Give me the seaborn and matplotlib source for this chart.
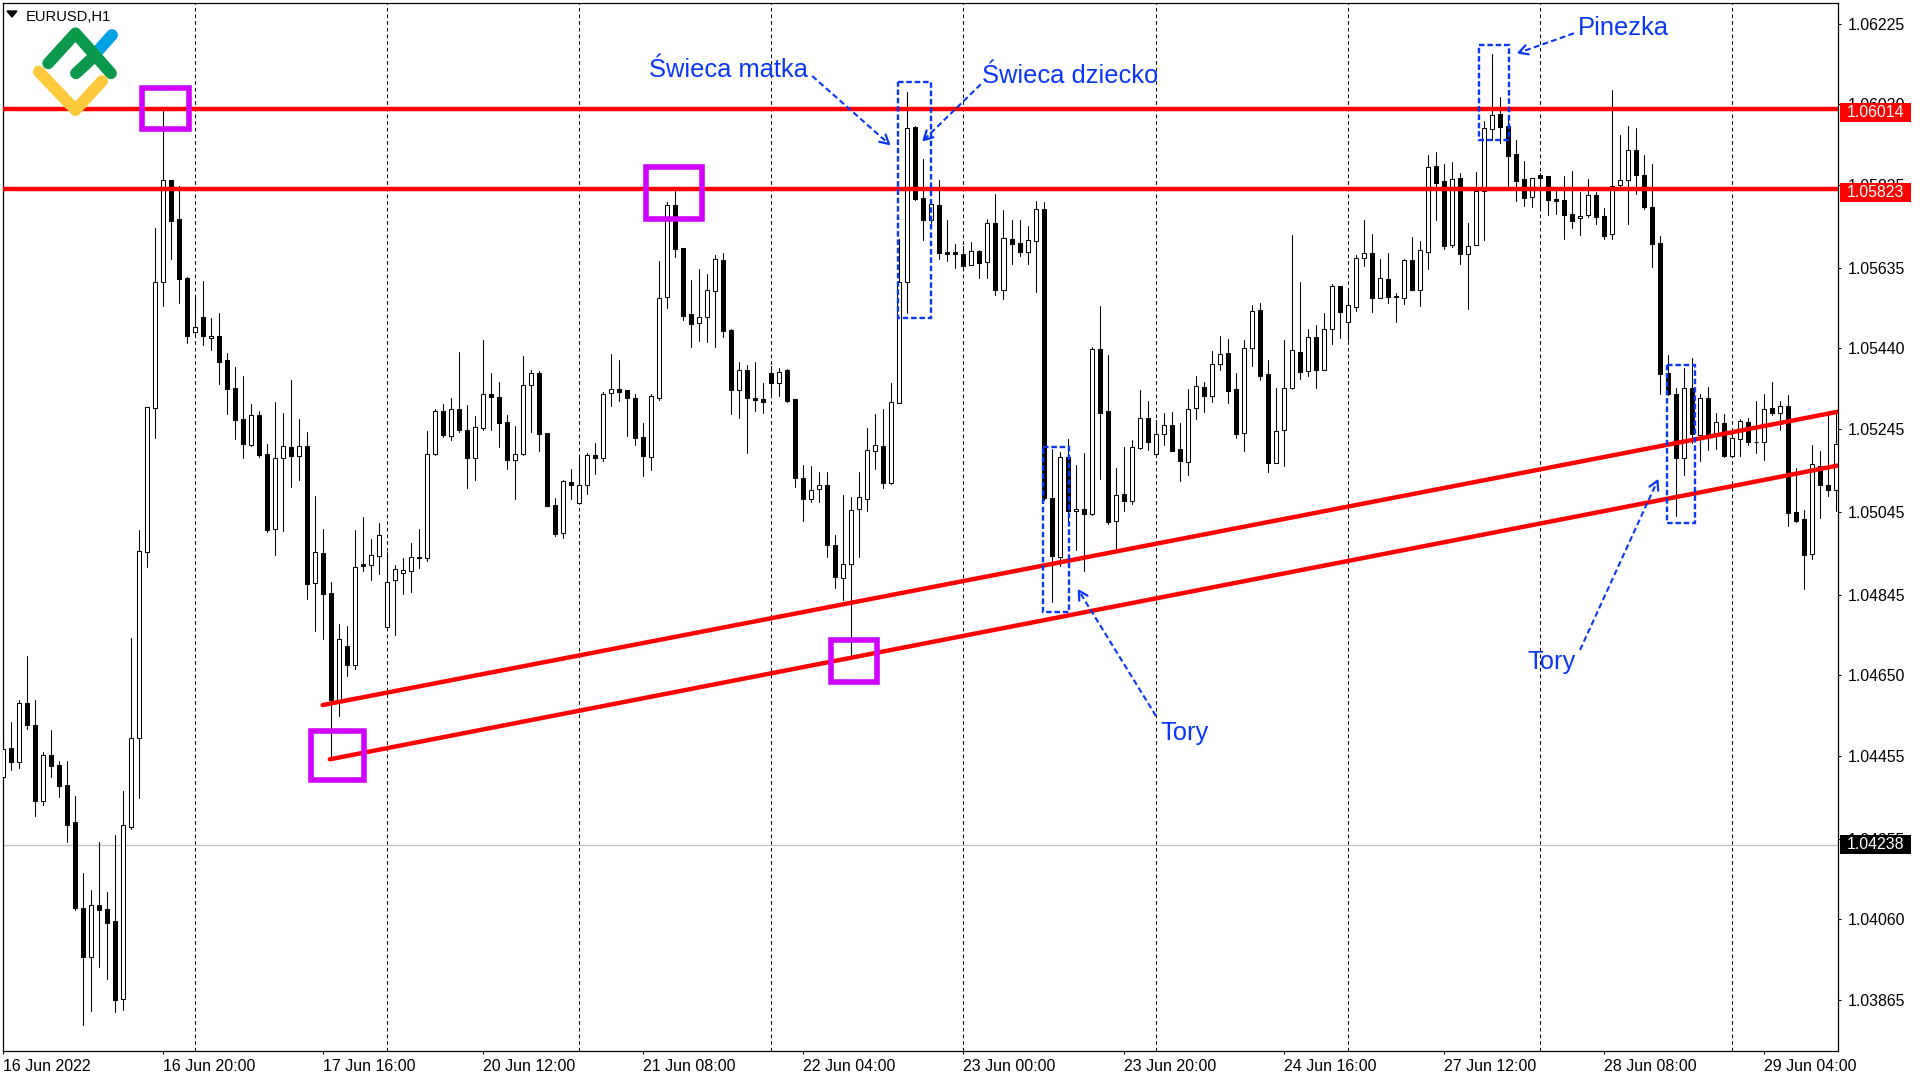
import numpy as np
import pandas as pd
import matplotlib
matplotlib.use('Agg')
import matplotlib.pyplot as plt
import seaborn as sns
from matplotlib.lines import Line2D
from matplotlib.patches import Rectangle, Polygon
from matplotlib.transforms import Affine2D

# EURUSD H1 candles, prices in points (1.04403 -> 104403)
opens = [
    104403, 104474, 104441, 104582, 104530, 104345, 104457, 104433, 104385, 104295,
    104087, 103970, 104096, 104084, 104055, 103868, 104284, 104498, 104949, 105295,
    105600, 105846, 105752, 105610, 105479, 105515, 105466, 105471, 105412, 105344,
    105269, 105207, 105278, 105184, 105004, 105174, 105201, 105181, 105203, 104874,
    104945, 104848, 104590, 104722, 104676, 104919, 104917, 104939, 104767, 104881,
    104898, 104903, 104936, 104934, 105186, 105288, 105229, 105293, 105242, 105174,
    105248, 105330, 105323, 105262, 105171, 105186, 105352, 105380, 105236, 105062,
    104995, 105117, 105067, 105111, 105182, 105174, 105333, 105341, 105339, 105320,
    105225, 105178, 105321, 105565, 105786, 105682, 105522, 105502, 105517, 105579,
    105653, 105484, 105340, 105389, 105320, 105317, 105380, 105357, 105388, 105317,
    105128, 105077, 105101, 105109, 104966, 104886, 104918, 105053, 105077, 105193,
    105203, 105115, 105308, 105601, 105975, 105803, 105751, 105786, 105672, 105672,
    105667, 105642, 105675, 105648, 105742, 105582, 105704, 105695, 105674, 105699,
    105778, 105078, 104937, 105177, 105048, 105053, 105040, 105438, 105289, 105023,
    105087, 105072, 105200, 105271, 105186, 105234, 105254, 105196, 105166, 105297,
    105347, 105326, 105402, 105428, 105341, 105235, 105442, 105533, 105378, 105164,
    105244, 105344, 105432, 105385, 105468, 105389, 105488, 105592, 105503, 105539,
    105658, 105670, 105563, 105607, 105567, 105563, 105653, 105582, 105674, 105880,
    105844, 105690, 105853, 105669, 105690, 105820, 105971, 106006, 105977, 105909,
    105849, 105807, 105858, 105856, 105800, 105798, 105764, 105754, 105763, 105810,
    105759, 105716, 105834, 105846, 105919, 105858, 105781, 105694, 105380, 105329,
    105174, 105344, 105231, 105319, 105231, 105259, 105181, 105222, 105261, 105215,
    105213, 105295, 105285, 105302, 105044, 105027, 104944, 105157, 105109, 105099,
]
highs = [
    104518, 104536, 104590, 104697, 104590, 104464, 104518, 104443, 104443, 104358,
    104171, 104131, 104247, 104126, 104263, 104370, 104740, 105001, 105298, 105731,
    106014, 105846, 105832, 105613, 105569, 105603, 105513, 105525, 105430, 105394,
    105373, 105306, 105289, 105209, 105310, 105284, 105364, 105269, 105237, 105083,
    105003, 104875, 104773, 104769, 105001, 105033, 104979, 105018, 104947, 104916,
    104933, 104970, 105003, 105240, 105294, 105305, 105320, 105432, 105303, 105277,
    105460, 105381, 105359, 105278, 105252, 105422, 105388, 105385, 105236, 105078,
    105122, 105149, 105177, 105187, 105211, 105334, 105426, 105412, 105339, 105331,
    105260, 105329, 105651, 105794, 105821, 105682, 105605, 105631, 105620, 105665,
    105670, 105488, 105407, 105400, 105407, 105356, 105397, 105392, 105390, 105317,
    105158, 105156, 105141, 105141, 104989, 105086, 105081, 105141, 105247, 105281,
    105293, 105356, 105704, 106060, 105977, 105898, 105799, 105847, 105750, 105692,
    105687, 105697, 105678, 105753, 105813, 105774, 105750, 105750, 105736, 105796,
    105794, 105197, 105189, 105221, 105158, 105187, 105444, 105542, 105424, 105151,
    105202, 105219, 105339, 105313, 105267, 105284, 105286, 105260, 105342, 105373,
    105359, 105434, 105470, 105463, 105380, 105460, 105545, 105550, 105412, 105344,
    105460, 105714, 105600, 105488, 105496, 105525, 105595, 105592, 105581, 105665,
    105750, 105716, 105655, 105670, 105573, 105656, 105709, 105699, 105907, 105915,
    105886, 105890, 105864, 105743, 105866, 105990, 106151, 106048, 105994, 105944,
    105893, 105853, 105864, 105857, 105823, 105857, 105869, 105818, 105849, 105818,
    105779, 106064, 105956, 105977, 105973, 105907, 105886, 105711, 105424, 105344,
    105392, 105416, 105329, 105346, 105284, 105281, 105243, 105269, 105271, 105312,
    105330, 105359, 105312, 105327, 105151, 105049, 105207, 105192, 105286, 105287,
]
lows = [
    104399, 104421, 104427, 104520, 104310, 104337, 104405, 104355, 104248, 104083,
    103805, 103839, 103946, 103916, 103836, 103841, 104279, 104353, 104912, 105223,
    105543, 105656, 105550, 105454, 105468, 105448, 105436, 105354, 105281, 105221,
    105175, 105205, 105178, 104996, 104941, 104999, 105105, 105122, 104834, 104757,
    104738, 104449, 104552, 104648, 104665, 104902, 104880, 104895, 104763, 104747,
    104846, 104851, 104909, 104926, 105182, 105226, 105219, 105238, 105103, 105122,
    105243, 105243, 105202, 105149, 105076, 105182, 105238, 105192, 105059, 104987,
    104982, 105076, 105067, 105088, 105136, 105169, 105301, 105313, 105228, 105207,
    105132, 105146, 105316, 105538, 105661, 105509, 105443, 105458, 105455, 105443,
    105468, 105281, 105272, 105187, 105289, 105284, 105327, 105325, 105310, 105105,
    105023, 105069, 105068, 104936, 104861, 104832, 104697, 104936, 105047, 105149,
    105103, 105113, 105308, 105525, 105799, 105702, 105742, 105656, 105652, 105634,
    105632, 105641, 105610, 105610, 105569, 105559, 105645, 105663, 105644, 105576,
    105074, 104827, 104914, 105020, 104953, 104902, 105037, 105124, 105016, 104953,
    105047, 105064, 105198, 105194, 105183, 105207, 105192, 105120, 105134, 105269,
    105286, 105310, 105388, 105308, 105223, 105192, 105397, 105364, 105141, 105162,
    105156, 105343, 105366, 105373, 105344, 105389, 105451, 105465, 105460, 105531,
    105639, 105528, 105563, 105550, 105504, 105547, 105581, 105542, 105632, 105750,
    105680, 105685, 105644, 105536, 105690, 105702, 105944, 105936, 105827, 105796,
    105784, 105782, 105777, 105762, 105765, 105704, 105731, 105714, 105757, 105741,
    105704, 105704, 105831, 105741, 105813, 105778, 105637, 105330, 105327, 105035,
    105134, 105211, 105168, 105194, 105197, 105178, 105181, 105180, 105207, 105187,
    105170, 105279, 105243, 105011, 105020, 104859, 104931, 105030, 105083, 105047,
]
closes = [
    104471, 104441, 104582, 104530, 104345, 104457, 104431, 104383, 104288, 104087,
    103968, 104096, 104083, 104052, 103865, 104287, 104498, 104950, 105298, 105600,
    105846, 105749, 105608, 105471, 105492, 105471, 105471, 105408, 105343, 105267,
    105210, 105278, 105182, 105001, 105174, 105203, 105181, 105203, 104871, 104947,
    104847, 104590, 104737, 104675, 104911, 104914, 104940, 104988, 104875, 104908,
    104904, 104935, 104933, 105184, 105288, 105231, 105293, 105243, 105174, 105249,
    105329, 105323, 105260, 105170, 105186, 105351, 105380, 105233, 105059, 104991,
    105119, 105110, 105109, 105182, 105175, 105329, 105341, 105335, 105321, 105223,
    105180, 105325, 105563, 105786, 105681, 105519, 105499, 105517, 105580, 105655,
    105483, 105339, 105389, 105319, 105316, 105311, 105356, 105382, 105313, 105128,
    105076, 105099, 105109, 104965, 104887, 104918, 105049, 105080, 105194, 105206,
    105115, 105310, 105600, 105972, 105801, 105751, 105788, 105671, 105669, 105669,
    105639, 105675, 105647, 105742, 105582, 105706, 105692, 105673, 105701, 105778,
    105078, 104939, 105177, 105047, 105053, 105041, 105438, 105285, 105020, 105085,
    105071, 105201, 105273, 105214, 105232, 105256, 105192, 105168, 105293, 105348,
    105325, 105402, 105426, 105337, 105233, 105442, 105531, 105373, 105164, 105240,
    105344, 105436, 105384, 105468, 105389, 105488, 105590, 105529, 105544, 105658,
    105670, 105563, 105609, 105565, 105565, 105653, 105582, 105677, 105878, 105840,
    105687, 105849, 105668, 105687, 105820, 105972, 106003, 105976, 105906, 105845,
    105804, 105853, 105852, 105799, 105797, 105763, 105749, 105761, 105810, 105758,
    105712, 105832, 105846, 105919, 105860, 105782, 105692, 105379, 105329, 105174,
    105344, 105233, 105319, 105230, 105261, 105180, 105223, 105264, 105215, 105213,
    105293, 105285, 105302, 105043, 105023, 104941, 105160, 105110, 105098, 105208,
]

price_ticks = ['1.06225', '1.06030', '1.05835', '1.05635', '1.05440', '1.05245', '1.05045',
               '1.04845', '1.04650', '1.04455', '1.04255', '1.04060', '1.03865']
time_labels = ['16 Jun 2022', '16 Jun 20:00', '17 Jun 16:00', '20 Jun 12:00', '21 Jun 08:00',
               '22 Jun 04:00', '23 Jun 00:00', '23 Jun 20:00', '24 Jun 16:00', '27 Jun 12:00',
               '28 Jun 08:00', '29 Jun 04:00']
# where the horizontal lines sit on the scale (tags print the rounded quote below)
resistance_levels = [1.06019, 1.05826]
last_price = 1.04241
tag_labels = ['1.06014', '1.05823', '1.04238']
upper_rail_bars = [39.9, 229.3]
upper_rail_prices = [1.04578, 1.05287]
lower_rail_bars = [40.8, 229.3]
lower_rail_prices = [1.04447, 1.05157]

RED = '#FF0000'
BLUE = '#0A37F5'
MAGENTA = '#D000FF'

sns.set_style('white')
plt.rcParams['font.family'] = ['Liberation Sans', 'DejaVu Sans']
plt.rcParams['lines.scale_dashes'] = False

df = pd.DataFrame({'open': opens, 'high': highs, 'low': lows, 'close': closes}) / 1e5
df['bar'] = df.index

fig = plt.figure(figsize=(19.2, 10.8), dpi=100, facecolor='white')
ax = fig.add_axes([2.5 / 1920, 1 - 1051 / 1080, (1838 - 2.5) / 1920, (1051 - 2.5) / 1080])
ax.set_xlim(-0.11, 229.3)
ax.set_ylim(1.03742, 1.06276)

# session grid
for b in range(24, 217, 24):
    ax.axvline(b, color='black', lw=0.75, ls=(0, (2.6, 2.2)), zorder=1)
ax.axhline(last_price, color='#C0C0C0', lw=0.9, zorder=1)

# wicks
wicks = df.melt(id_vars='bar', value_vars=['high', 'low'], value_name='price')
sns.lineplot(data=wicks, x='bar', y='price', units='bar', estimator=None, color='black',
             linewidth=0.75, legend=False, ax=ax, zorder=2)

# bodies
up = df['close'] >= df['open']
body_low = df[['open', 'close']].min(axis=1)
body_h = (df['close'] - df['open']).abs()
ax.bar(df['bar'], body_h, bottom=body_low, width=0.5, color=np.where(up, 'white', 'black'),
       edgecolor='black', linewidth=0.75, zorder=3)

# levels and rails
for lvl in resistance_levels:
    ax.axhline(lvl, color=RED, lw=3.2, zorder=4)
rails = pd.DataFrame({
    'bar': upper_rail_bars + lower_rail_bars,
    'price': upper_rail_prices + lower_rail_prices,
    'rail': ['upper', 'upper', 'lower', 'lower'],
})
sns.lineplot(data=rails, x='bar', y='price', units='rail', estimator=None, color=RED,
             linewidth=3.2, legend=False, ax=ax, zorder=4)

# axes furniture
ax.set_xlabel('')
ax.set_ylabel('')
ax.set_xticks(range(0, 221, 20))
ax.set_xticklabels(time_labels, ha='left', fontsize=11.5)
ax.yaxis.tick_right()
ax.set_yticks([float(t) for t in price_ticks])
ax.set_yticklabels(price_ticks, fontsize=11.4)
ax.tick_params(axis='x', bottom=True, length=2.2, width=0.75, pad=3.5, colors='black')
ax.tick_params(axis='y', right=True, length=2.2, width=0.75, pad=4.5, colors='black')
for s in ax.spines.values():
    s.set_color('black')
    s.set_linewidth(0.9)
    s.set_visible(True)

# annotations are placed in screen pixels, origin top left
px = Affine2D().scale(1, -1).translate(0, 1080)


def box(x0, y0, x1, y1, color, lw, ls='-'):
    fig.add_artist(Rectangle((x0, y0), x1 - x0, y1 - y0, fill=False, edgecolor=color, lw=lw,
                             ls=ls, joinstyle='miter', transform=px, zorder=5))


def arrow(x0, y0, x1, y1):
    fig.add_artist(Line2D([x0, x1], [y0, y1], color=BLUE, lw=1.5, ls=(0, (4.2, 2.4)),
                          transform=px, zorder=6))
    ang = np.arctan2(y0 - y1, x0 - x1)
    head = [(x1 + 10 * np.cos(ang + d), y1 + 10 * np.sin(ang + d)) for d in (0.5, -0.5)]
    fig.add_artist(Line2D([head[0][0], x1, head[1][0]], [head[0][1], y1, head[1][1]],
                          color=BLUE, lw=1.6, transform=px, zorder=6))


for r in [(141.5, 87.5, 188.5, 128.5), (645.5, 166.5, 701.5, 219),
          (310.5, 730.5, 363.5, 780), (830.5, 639.5, 876.5, 681.5)]:
    box(*r, MAGENTA, 4.0)
for r in [(898, 82.3, 931, 318.3), (1042.9, 446.7, 1069, 612.3),
          (1478.8, 44.7, 1509, 140.3), (1667, 364.7, 1695, 523)]:
    box(*r, BLUE, 1.7, (0, (4, 2)))

arrow(812.2, 76, 889, 144)
arrow(980.8, 84.3, 923.7, 140)
arrow(1573.9, 33.3, 1518.8, 52.7)
arrow(1156, 716, 1078.8, 590.7)
arrow(1580, 650, 1657.5, 480.7)

for txt, x, y in [('Świeca matka', 649, 77), ('Świeca dziecko', 982, 82.7), ('Pinezka', 1578, 35),
                  ('Tory', 1160, 740), ('Tory', 1527, 669)]:
    fig.text(x, y, txt, color=BLUE, fontsize=18.4, transform=px, va='baseline', ha='left', zorder=7)

# symbol header
fig.add_artist(Polygon([(7, 11), (17, 11), (12, 17)], closed=True, color='black', transform=px, zorder=7))
fig.text(26, 21, 'EURUSD,H1', color='black', fontsize=10.6, transform=px, va='baseline', zorder=7)

# price tags on the right
for label, y0, y1, y_txt, bg in [(tag_labels[0], 103, 122, 112.7, RED), (tag_labels[1], 183, 202, 192.5, RED),
                                 (tag_labels[2], 835, 854, 844.5, 'black')]:
    fig.add_artist(Rectangle((1840, y0), 71, y1 - y0, color=bg, lw=0, transform=px, zorder=5))
    fig.text(1847, y_txt, label, color='white', fontsize=11.4, transform=px, va='center', zorder=7)

# logo
for pts, col in [([(96, 53), (112, 35)], '#05A3E6'),
                 ([(48.2, 63.3), (75.5, 33.3), (111, 73.3)], '#0B9A4C'),
                 ([(76, 73.3), (93.9, 56.7)], '#0B9A4C'),
                 ([(38.8, 71.7), (75.5, 110), (102, 81)], '#FFC93C')]:
    xs, ys = zip(*pts)
    fig.add_artist(Line2D(xs, ys, color=col, lw=8.5, solid_capstyle='round', solid_joinstyle='round',
                          transform=px, zorder=8))

fig.savefig('out.png', dpi=100, facecolor='white')
